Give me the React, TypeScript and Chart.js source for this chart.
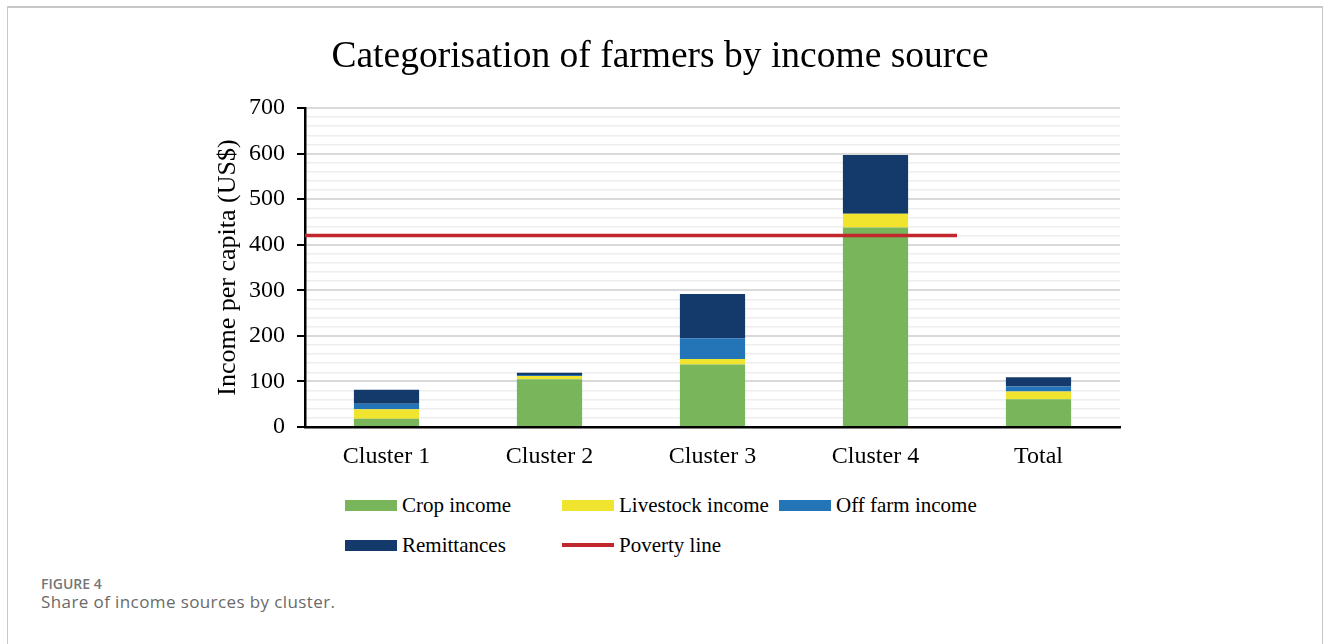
import React, { useEffect, useRef } from "react";
import { Chart, registerables } from "chart.js";

Chart.register(...registerables);

const categories = ["Cluster 1", "Cluster 2", "Cluster 3", "Cluster 4", "Total"];
const cropIncome = [18, 105, 137, 438, 61];
const livestockIncome = [21, 7, 12, 30, 17];
const offFarmIncome = [12, 2, 46, 0, 11];
const remittances = [31, 5, 97, 129, 20];
const povertyLine = 420;
const povertyLineSpan = [0, 4];

const titleText = "Categorisation of farmers by income source";
const yTitleText = "Income per capita (US$)";
const captionLabel = "FIGURE 4";
const captionText = "Share of income sources by cluster.";

const seriesNames = ["Crop income", "Livestock income", "Off farm income", "Remittances", "Poverty line"];
const seriesColors = ["#78b55b", "#f1e42f", "#2474b8", "#143a6b", "#c1272d"];

const SERIF = "'Liberation Serif', 'Times New Roman', serif";

export default function App() {
  const canvasRef = useRef<HTMLCanvasElement | null>(null);

  useEffect(() => {
    const canvas = canvasRef.current;
    if (!canvas) return;
    const barSeries = [cropIncome, livestockIncome, offFarmIncome, remittances];
    const chart = new Chart(canvas, {
      type: "bar",
      data: {
        labels: categories,
        datasets: [
          ...barSeries.map((d, i) => ({
            type: "bar" as const,
            label: seriesNames[i],
            data: d,
            backgroundColor: seriesColors[i],
            borderWidth: 0,
            xAxisID: "x",
            yAxisID: "y",
            stack: "income",
            grouped: false,
            categoryPercentage: 1,
            barPercentage: 0.4,
            order: 1,
          })),
          {
            type: "line",
            label: seriesNames[4],
            data: povertyLineSpan.map((x) => ({ x, y: povertyLine })),
            xAxisID: "x2",
            yAxisID: "y",
            stack: "poverty",
            borderColor: seriesColors[4],
            backgroundColor: seriesColors[4],
            borderWidth: 3.5,
            pointRadius: 0,
            order: 0,
          } as any,
        ],
      },
      options: {
        responsive: false,
        animation: false,
        devicePixelRatio: 1,
        layout: { padding: { top: 10, left: 200, right: 210, bottom: 0 } },
        plugins: {
          legend: { display: false },
          tooltip: { enabled: false },
          title: {
            display: true,
            text: titleText,
            color: "#000",
            font: { family: SERIF, size: 37.5, weight: "normal" },
            padding: { top: 25, bottom: 28 },
          },
        },
        scales: {
          x: {
            type: "category",
            stacked: true,
            offset: true,
            grid: { display: false, drawTicks: false },
            border: { display: true, color: "#000", width: 2.5 },
            ticks: {
              color: "#000",
              font: { family: SERIF, size: 24 },
              padding: 15,
              maxRotation: 0,
            },
            afterFit: (s: any) => {
              s.height = 53;
            },
          },
          x2: {
            type: "linear",
            display: false,
            offset: false,
            min: 0,
            max: 5,
            grid: { offset: false },
          },
          y: {
            stacked: true,
            min: 0,
            max: 700,
            ticks: {
              stepSize: 20,
              autoSkip: false,
              color: "#000",
              font: { family: SERIF, size: 24 },
              padding: 12,
              callback: (v: any) => (Number(v) % 100 === 0 ? String(v) : ""),
            },
            grid: {
              drawTicks: true,
              tickLength: 8,
              color: (ctx: any) => (ctx.tick && ctx.tick.value % 100 === 0 ? "#d9d9d9" : "#eeeeee"),
              lineWidth: (ctx: any) => (ctx.tick && ctx.tick.value % 100 === 0 ? 2 : 1.5),
              tickColor: (ctx: any) => (ctx.tick && ctx.tick.value % 100 === 0 ? "#000" : "rgba(0,0,0,0)"),
              tickWidth: 2,
            },
            border: { display: true, color: "#000", width: 2.5 },
            title: {
              display: true,
              text: yTitleText,
              color: "#000",
              font: { family: SERIF, size: 26, weight: "normal" },
              padding: { top: 13, bottom: 0 },
            },
            afterFit: (s: any) => {
              s.width = 105;
            },
          },
        },
      } as any,
    });
    return () => chart.destroy();
  }, []);

  const legendCols = [345, 562, 779];
  const legendRows = [505, 545];

  return (
    <div style={{ position: "absolute", left: 0, top: 0, width: 1330, height: 644, overflow: "hidden", background: "#fff" }}>
      <div
        style={{
          position: "absolute",
          left: 7,
          top: 6,
          width: 1314,
          height: 700,
          borderLeft: "1px solid #c8c8c8",
          borderRight: "1px solid #c8c8c8",
          borderTop: "2px solid #c8c8c8",
        }}
      />
      <canvas
        ref={canvasRef}
        width={1330}
        height={480}
        style={{ position: "absolute", left: 0, top: 0, width: 1330, height: 480 }}
      />
      {seriesNames.map((name, i) => {
        const col = i % 3;
        const row = Math.floor(i / 3);
        const x = legendCols[col];
        const y = legendRows[row];
        const isLine = i === 4;
        return (
          <div key={name} style={{ position: "absolute", left: x, top: y - 14, height: 28, display: "flex", alignItems: "center" }}>
            <div
              style={{
                width: 52,
                height: isLine ? 4 : 11,
                background: seriesColors[i],
                marginRight: 5,
              }}
            />
            <span style={{ fontFamily: SERIF, fontSize: 21, color: "#000", whiteSpace: "nowrap", lineHeight: "28px" }}>{name}</span>
          </div>
        );
      })}
      <div
        style={{
          position: "absolute",
          left: 41,
          top: 574,
          fontFamily: "'Open Sans', sans-serif",
          fontSize: 14,
          fontWeight: 600,
          color: "#767676",
          lineHeight: "normal",
          whiteSpace: "nowrap",
        }}
      >
        {captionLabel}
      </div>
      <div
        style={{
          position: "absolute",
          left: 41,
          top: 590,
          fontFamily: "'Open Sans', sans-serif",
          fontSize: 17,
          letterSpacing: 0.4,
          color: "#6a6a6a",
          lineHeight: "normal",
          whiteSpace: "nowrap",
        }}
      >
        {captionText}
      </div>
    </div>
  );
}
